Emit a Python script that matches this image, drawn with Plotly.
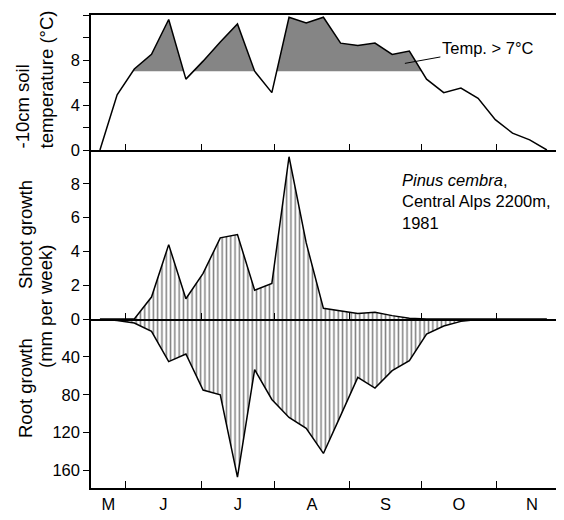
import plotly.graph_objects as go

# ---------------- data (weekly observations, Pinus cembra 1981) ----------------
weeks = list(range(27))
soil_temp = [0.0, 4.9, 7.2, 8.5, 11.6, 6.3, 7.9, 9.6, 11.2, 7.0, 5.1, 11.8, 11.3, 11.8,
             9.5, 9.3, 9.5, 8.5, 8.8, 6.3, 5.1, 5.5, 4.6, 2.7, 1.5, 0.9, 0.0]
shoot_growth = [0, 0, 0, 1.3, 4.4, 1.2, 2.7, 4.8, 5.0, 1.7, 2.1, 9.6, 4.5, 0.63,
                0.47, 0.33, 0.4, 0.2, 0.05, 0, 0, 0, 0, 0, 0, 0, 0]
root_growth = [0, 1.5, 4.2, 13, 45, 37, 75, 80, 167, 53.5, 85, 104, 115.5, 142,
               102, 61.6, 73, 54.5, 44, 16, 7.4, 2.5, 0.5, 0, 0, 0, 0]
temp_threshold = 7.0

month_bounds = [1.51, 5.88, 10.18, 14.49, 18.73, 23.04]        # in weeks
month_centers = [0.49, 3.69, 8.03, 12.33, 16.61, 20.88, 25.13]
month_labels = ["M", "J", "J", "A", "S", "O", "N"]

temp_ticks = [0, 4, 8, 12]
temp_minor = [2, 6, 10]
shoot_ticks = [0, 2, 4, 6, 8]
root_ticks = [40, 80, 120, 160]

# ---------------- helpers ----------------
def above_polygon(xs, ys, thr):
    px, py = [], []
    for i in range(len(xs)):
        if i > 0:
            y0, y1 = ys[i - 1], ys[i]
            if (y0 - thr) * (y1 - thr) < 0:
                t = (thr - y0) / (y1 - y0)
                px.append(xs[i - 1] + t * (xs[i] - xs[i - 1]))
                py.append(thr)
        px.append(xs[i])
        py.append(max(ys[i], thr))
    first = next(i for i, v in enumerate(py) if v > thr) - 1
    last = len(py) - next(i for i, v in enumerate(py[::-1]) if v > thr)
    px, py = px[first:last + 1], py[first:last + 1]
    return px + px[::-1], py + [thr] * len(px)

FONT = "Liberation Sans, Arial, Helvetica, sans-serif"
FS = 16.5
BLACK = "black"

fig = go.Figure()

sx, sy = above_polygon(weeks, soil_temp, temp_threshold)
fig.add_trace(go.Scatter(x=sx, y=sy, xaxis="x3", yaxis="y", mode="lines",
                         line=dict(width=0), fill="toself", fillcolor="#858585",
                         hoverinfo="skip"))
fig.add_trace(go.Scatter(x=weeks, y=soil_temp, xaxis="x3", yaxis="y", mode="lines",
                         line=dict(color=BLACK, width=1.5)))

pattern = dict(shape="|", size=4.3, solidity=0.35, fgcolor=BLACK,
               bgcolor="rgba(255,255,255,0)")
fig.add_trace(go.Scatter(x=weeks, y=shoot_growth, xaxis="x2", yaxis="y2", mode="lines",
                         line=dict(color=BLACK, width=1.5), fill="tozeroy",
                         fillcolor="rgba(255,255,255,0)", fillpattern=pattern))
fig.add_trace(go.Scatter(x=weeks, y=root_growth, xaxis="x", yaxis="y3", mode="lines",
                         line=dict(color=BLACK, width=1.5), fill="tozeroy",
                         fillcolor="rgba(255,255,255,0)", fillpattern=pattern))

# The page body keeps the browser's 8px margin: size the figure so the page is
# exactly 564x520 (no overflow), with the plot area at page pixels 91..556 x 15..488.
OFF = 8
FIG_W, FIG_H = 564 - 2 * OFF, 520 - 2 * OFF
P_LEFT, P_RIGHT, P_TOP, P_BOT = 91, 556, 15, 488
PW = P_RIGHT - P_LEFT
PH = P_BOT - P_TOP
d_root = (P_BOT - 319) / PH
d_mid = (P_BOT - 150) / PH
week_px = 17.19
x_range = [-0.52, -0.52 + PW / week_px]

yax_common = dict(showline=True, linecolor=BLACK, linewidth=1.5, ticks="outside",
                  ticklen=6, tickwidth=1.3, tickcolor=BLACK, showgrid=False,
                  zeroline=False, tickfont=dict(family=FONT, size=FS, color=BLACK))
xax_common = dict(showline=True, linecolor=BLACK, linewidth=1.5, showgrid=False,
                  zeroline=False, range=x_range)

fig.update_layout(
    width=FIG_W, height=FIG_H,
    margin=dict(l=P_LEFT - OFF, r=FIG_W - (P_RIGHT - OFF), t=P_TOP - OFF,
                b=FIG_H - (P_BOT - OFF), pad=0),
    paper_bgcolor="white", plot_bgcolor="white",
    showlegend=False,
    font=dict(family=FONT, size=FS, color=BLACK),
    xaxis=dict(**xax_common, anchor="y3", tickmode="array", tickvals=month_centers,
               ticktext=month_labels, ticks="", ticklabelstandoff=0,
               tickfont=dict(family=FONT, size=FS, color=BLACK),
               minor=dict(tickmode="array", tickvals=month_bounds, ticks="inside",
                          ticklen=7, tickwidth=1.3, tickcolor=BLACK, showgrid=False)),
    xaxis2=dict(**xax_common, anchor="y2", matches="x", tickmode="array",
                tickvals=month_bounds, ticks="inside", ticklen=6, tickwidth=1.3,
                tickcolor=BLACK, showticklabels=False),
    xaxis3=dict(**xax_common, anchor="y", matches="x", tickmode="array",
                tickvals=month_bounds, ticks="inside", ticklen=6, tickwidth=1.3,
                tickcolor=BLACK, showticklabels=False, mirror=True),
    yaxis=dict(**yax_common, domain=[d_mid, 1], range=[0, 12], anchor="x3",
               tickmode="array", tickvals=temp_ticks,
               minor=dict(tickmode="array", tickvals=temp_minor, ticks="outside",
                          ticklen=6, tickwidth=1.3, tickcolor=BLACK, showgrid=False)),
    yaxis2=dict(**yax_common, domain=[d_root, d_mid], range=[0, 10], anchor="x2",
                tickmode="array", tickvals=shoot_ticks),
    yaxis3=dict(**yax_common, domain=[0, d_root], range=[178.5, 0], anchor="x",
                tickmode="array", tickvals=root_ticks),
)

def px_x(p):
    return (p - P_LEFT) / PW

def px_y(p):
    return (P_BOT - p) / PH

title_font = dict(family=FONT, size=18.5, color=BLACK)
fig.add_annotation(text="-10cm soil<br>temperature (°C)", xref="paper", yref="paper",
                   x=px_x(33.5), y=px_y(80), textangle=-90, align="left",
                   showarrow=False, font=title_font, xanchor="center", yanchor="middle")
fig.add_annotation(text="Shoot growth", xref="paper", yref="paper",
                   x=px_x(25), y=px_y(235), textangle=-90, showarrow=False,
                   font=title_font, xanchor="center", yanchor="middle")
fig.add_annotation(text="(mm per week)", xref="paper", yref="paper",
                   x=px_x(45), y=px_y(307), textangle=-90, showarrow=False,
                   font=title_font, xanchor="center", yanchor="middle")
fig.add_annotation(text="Root growth", xref="paper", yref="paper",
                   x=px_x(25), y=px_y(388), textangle=-90, showarrow=False,
                   font=title_font, xanchor="center", yanchor="middle")

fig.add_annotation(text="Temp. > 7°C", xref="x3", yref="y", x=17.74, y=7.7,
                   showarrow=True, arrowhead=0, arrowwidth=1, arrowcolor=BLACK,
                   ax=83, ay=-15, font=dict(family=FONT, size=FS, color=BLACK))
fig.add_annotation(text="<i>Pinus cembra</i>,<br>Central Alps 2200m,<br>1981",
                   xref="x2", yref="y2", x=17.45, y=6.94, xanchor="left",
                   yanchor="middle", align="left", showarrow=False,
                   font=dict(family=FONT, size=FS, color=BLACK))

fig.write_html("out.html")
